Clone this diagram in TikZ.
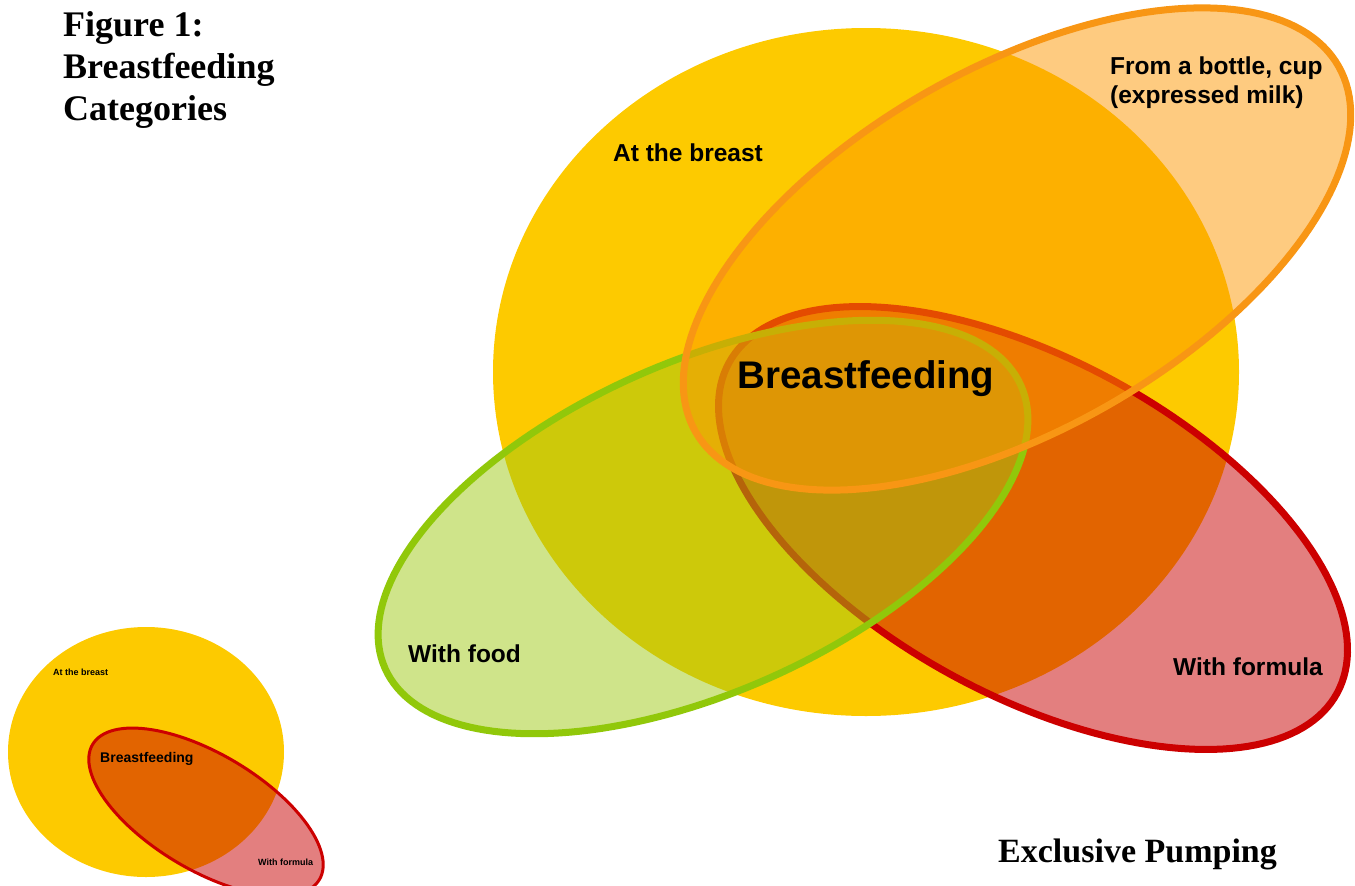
\documentclass[tikz,border=0pt]{standalone}
\usepackage{fontspec}
\setmainfont{Liberation Serif}
\newfontfamily\arialfont{Liberation Sans}
\definecolor{cyellow}{RGB}{253,202,0}
\definecolor{corangefill}{RGB}{253,151,1}
\definecolor{corangeline}{RGB}{248,150,20}
\definecolor{cgreenfill}{RGB}{159,201,21}
\definecolor{cgreenline}{RGB}{145,200,10}
\definecolor{credfill}{RGB}{200,0,0}
\definecolor{credline}{RGB}{204,0,0}
\begin{document}
\begin{tikzpicture}[x=1pt,y=-1pt,
  lab/.style={font=\arialfont\bfseries\fontsize{24.5}{28}\selectfont, inner sep=0pt, text=black},
  biglab/.style={font=\arialfont\bfseries\fontsize{38.5}{44}\selectfont, inner sep=0pt, text=black},
  smalllab/.style={font=\arialfont\bfseries\fontsize{9}{11}\selectfont, inner sep=0pt, text=black},
  midlab/.style={font=\arialfont\bfseries\fontsize{14}{16}\selectfont, inner sep=0pt, text=black},
  titlelab/.style={font=\bfseries\fontsize{36}{42}\selectfont, inner sep=0pt, text=black},
  redset/.style={fill=credfill, fill opacity=0.5, draw=credline},
  greenset/.style={fill=cgreenfill, fill opacity=0.5, draw=cgreenline},
  orangeset/.style={fill=corangefill, fill opacity=0.5, draw=corangeline},
  thickline/.style={line width=7pt, line join=round}
]
\useasboundingbox (0,0) rectangle (1355,886);
\clip (0,0) rectangle (1355,886);

% ---------- big diagram ----------
% At the breast
\fill[cyellow] (866,372) ellipse [x radius=373, y radius=344];

% With formula (axis down-right, 28.5 deg)
\filldraw[redset, thickline] plot[domain=0:360, samples=181, variable=\t]
  ({1033+346*cos(\t)*0.879-168*sin(\t)*0.477},{528+346*cos(\t)*0.477+168*sin(\t)*0.879}) -- cycle;

% With food (axis up-right, 24 deg)
\filldraw[greenset, thickline] plot[domain=0:360, samples=181, variable=\t]
  ({703+348*cos(\t)*0.9135+165*sin(\t)*0.4067},{527-348*cos(\t)*0.4067+165*sin(\t)*0.9135}) -- cycle;

% From a bottle, cup (axis up-right, 29.6 deg)
\filldraw[orangeset, thickline] plot[domain=0:360, samples=181, variable=\t]
  ({1017+370*cos(\t)*0.869+181*sin(\t)*0.494},{249-370*cos(\t)*0.494+181*sin(\t)*0.869}) -- cycle;

\node[lab, anchor=base] (atbreast) at (688,161) {At the breast};
\node[lab, anchor=base west] (bottle1) at (1110,74) {From a bottle, cup};
\node[lab, anchor=base west] (bottle2) at (1110,103) {(expressed milk)};
\node[biglab, anchor=base] (bf) at (866,388) {Breastfeeding};
\node[lab, anchor=base west] (food) at (408,662) {With food};
\node[lab, anchor=base west] (formula) at (1173,675) {With formula};

% ---------- small diagram ----------
\fill[cyellow] (146,752) ellipse [x radius=138, y radius=125];
\filldraw[redset, line width=3pt] plot[domain=0:360, samples=121, variable=\t]
  ({206+132*cos(\t)*0.859-58*sin(\t)*0.512},{812+132*cos(\t)*0.512+58*sin(\t)*0.859}) -- cycle;
\node[smalllab, anchor=base west] (satb) at (53,675) {At the breast};
\node[midlab, anchor=base west] (sbf) at (100,762) {Breastfeeding};
\node[smalllab, anchor=base west] (sform) at (258,865) {With formula};

% ---------- titles ----------
\node[titlelab, anchor=base west] (t1) at (63,36) {Figure 1:};
\node[titlelab, anchor=base west] (t2) at (63,78) {Breastfeeding};
\node[titlelab, anchor=base west] (t3) at (63,120) {Categories};
\node[titlelab, anchor=base west, font=\bfseries\fontsize{34}{40}\selectfont] (ep) at (998,862) {Exclusive Pumping};
\end{tikzpicture}
\end{document}
